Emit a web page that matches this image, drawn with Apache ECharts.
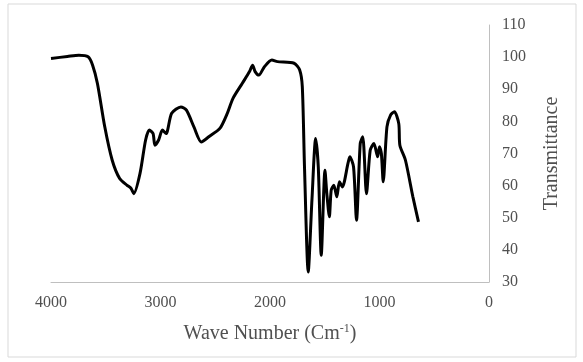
<!DOCTYPE html>
<html>
<head>
<meta charset="utf-8">
<script src="https://cdn.jsdelivr.net/npm/echarts@6/dist/echarts.min.js"></script>
<style>html,body{margin:0;padding:0;background:#fff;}#c{width:583px;height:362px;}</style>
</head>
<body>
<div id="c"></div>
<script>
const wavenumber = [4000,3850,3746,3661,3620,3576,3509,3441,3373,3305,3270,3244,3187,3136,3102,3068,3051,3017,2983,2949,2898,2814,2763,2695,2627,2559,2458,2390,2339,2254,2187,2159,2136,2102,2051,1983,1932,1780,1729,1705,1685,1651,1617,1583,1559,1532,1498,1481,1458,1441,1417,1390,1366,1339,1288,1271,1237,1210,1176,1153,1119,1085,1051,1017,1000,983,966,932,898,864,824,814,763,695,644];
const transmittance = [99.6,100.2,100.6,100.1,97.5,91.8,78.3,67.9,62.2,60.1,59.2,57.5,63.8,74.2,77.3,76.2,72.6,74.2,77.3,76.2,82.5,84.5,83.5,78.3,73.6,75.2,77.8,82.5,87.1,91.8,95.5,97.5,95.5,94.4,97,99.1,98.6,98.1,96,90.8,65.8,33.1,55.5,74.7,65.8,38.3,64.8,57.5,50.3,58.6,60.1,56.5,61.2,59.6,66.9,69,65.8,49.2,73.1,75.2,57.5,71,73.1,69,72.1,70,61.2,78.3,82,83,79.3,72.6,67.9,56.5,48.7];
const xTicks = [0,1000,2000,3000,4000];
const yTicks = [30,40,50,60,70,80,90,100,110];

const chart = echarts.init(document.getElementById('c'));
const font = 'Liberation Serif, Times New Roman, serif';
chart.setOption({
  animation: false,
  backgroundColor: '#fff',
  graphic: [{type:'rect', shape:{x:8,y:4,width:568,height:353}, style:{fill:'none', stroke:'#d9d9d9', lineWidth:1}, silent:true}],
  grid: {left: 51, right: 94, top: 25, bottom: 80},
  xAxis: {
    type: 'value', inverse: true, min: xTicks[0], max: xTicks[xTicks.length-1], interval: 1000,
    axisLine: {show: true, lineStyle: {color: '#bfbfbf', width: 1}},
    axisTick: {show: false}, splitLine: {show: false},
    axisLabel: {color: '#505050', fontFamily: font, fontSize: 16, margin: 13, formatter: v => String(v)},
    name: '{a|Wave Number (Cm}{s|-1}{a|)}', nameLocation: 'middle', nameGap: 41,
    nameTextStyle: {rich: {
      a: {fontFamily: font, fontSize: 20, color: '#505050'},
      s: {fontFamily: font, fontSize: 12, color: '#505050', padding: [0,0,10,0]}
    }}
  },
  yAxis: {
    type: 'value', position: 'right', min: yTicks[0], max: yTicks[yTicks.length-1], interval: 10,
    axisLine: {show: true, lineStyle: {color: '#bfbfbf', width: 1}},
    axisTick: {show: false}, splitLine: {show: false},
    axisLabel: {color: '#505050', fontFamily: font, fontSize: 16, margin: 13},
    name: 'Transmittance', nameLocation: 'middle', nameGap: 53, nameRotate: 90,
    nameTextStyle: {fontFamily: font, fontSize: 20, color: '#505050'}
  },
  series: [{
    type: 'line', data: wavenumber.map((w,i)=>[w, transmittance[i]]),
    showSymbol: false, smooth: 0.25,
    lineStyle: {color: '#000', width: 3}
  }]
});
</script>
</body>
</html>
